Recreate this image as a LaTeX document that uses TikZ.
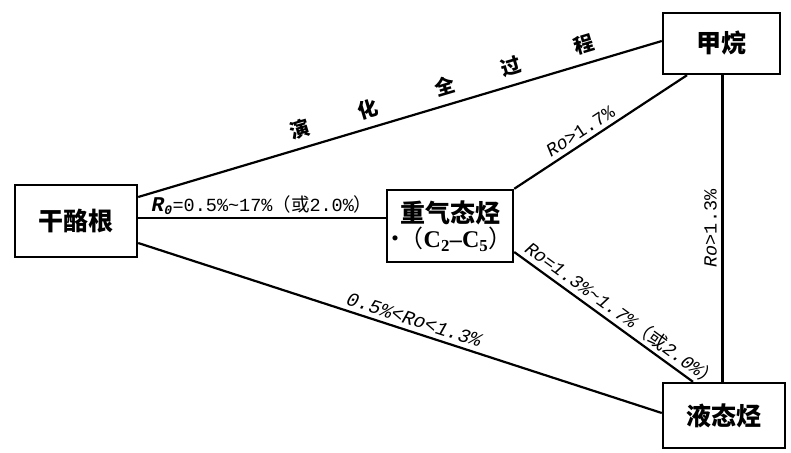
\documentclass[tikz,border=0pt]{standalone}
\usepackage{fontspec}
\setmainfont{Liberation Serif}
\setmonofont{Liberation Mono}
\newfontfamily\cjk{Noto Sans CJK SC}
\begin{document}
\begin{tikzpicture}[x=1pt,y=-1pt,
  box/.style={draw,line width=2.4pt,inner sep=0pt,align=center,
    font=\cjk\bfseries\fontsize{25}{28}\selectfont},
  conn/.style={line width=2.2pt},
  lab/.style={font=\fontsize{18.5}{18.5}\selectfont\ttfamily,inner sep=1.5pt},
  big/.style={font=\cjk\bfseries\fontsize{20}{20}\selectfont,sloped,above=7pt,inner sep=1pt}]
\useasboundingbox (0,0) rectangle (791,452);
% nodes
\node[box,minimum width=122pt,minimum height=72pt] (gan) at (76,221) {干酪根};
\node[box,minimum width=126pt,minimum height=72pt] (zhong) at (450,226)
  {重气态烃\\[-3pt]{\fontsize{24}{24}\selectfont\hspace*{-4pt}{\mdseries\cjk ·\hspace{-8pt}（}{\rmfamily\textbf{C}\textsubscript{2}–\textbf{C}\textsubscript{5}}{\mdseries\cjk ）}}};
\node[box,minimum width=117pt,minimum height=61pt] (jia) at (721.5,43.5) {甲烷};
\node[box,minimum width=122pt,minimum height=65pt] (ye) at (724,415.5) {液态烃};
% connectors
\draw[conn] ([yshift=24pt]gan.east) -- ([yshift=2.5pt]jia.west)
  node[big,pos=0.319] (c1) {演}
  node[big,pos=0.449] (c2) {化}
  node[big,pos=0.595] (c3) {全}
  node[big,pos=0.722] (c4) {过}
  node[big,pos=0.861] (c5) {程};
\draw[conn] ([yshift=3pt]gan.east) -- ([yshift=3pt]gan.east -| zhong.west)
  node[lab,pos=0.5,above=1pt] (l1) {{\fontsize{21}{21}\selectfont\textbf{\textit{R}}}\textsubscript{\textbf{\textit{0}}}=0.5\%\textasciitilde17\%{\cjk （或}2.0\%{\cjk ）}};
\draw[conn] (zhong.north east) -- ([xshift=-34.5pt]jia.south)
  node[lab,sloped,above=3pt,pos=0.42] (l2) {\textit{Ro}>1.7\%};
\draw[conn] ([xshift=1pt]jia.south) -- ([xshift=1pt]jia.south |- ye.north)
  node[lab,midway,rotate=90,above=3pt] (l3) {\textit{Ro}>1.3\%};
\draw[conn] ([yshift=-26pt]zhong.east) -- ([xshift=-31pt]ye.north)
  node[lab,sloped,above=2pt,pos=0.56] (l4) {\itshape Ro=1.3\%\textasciitilde1.7\%{\cjk （或}2.0\%{\cjk ）}};
\draw[conn] ([yshift=-22pt]gan.east) -- ([yshift=2.5pt]ye.west)
  node[lab,sloped,above=3pt,pos=0.52] (l5) {\fontsize{19.5}{19.5}\selectfont\itshape 0.5\%<Ro<1.3\%};
\end{tikzpicture}
\end{document}
